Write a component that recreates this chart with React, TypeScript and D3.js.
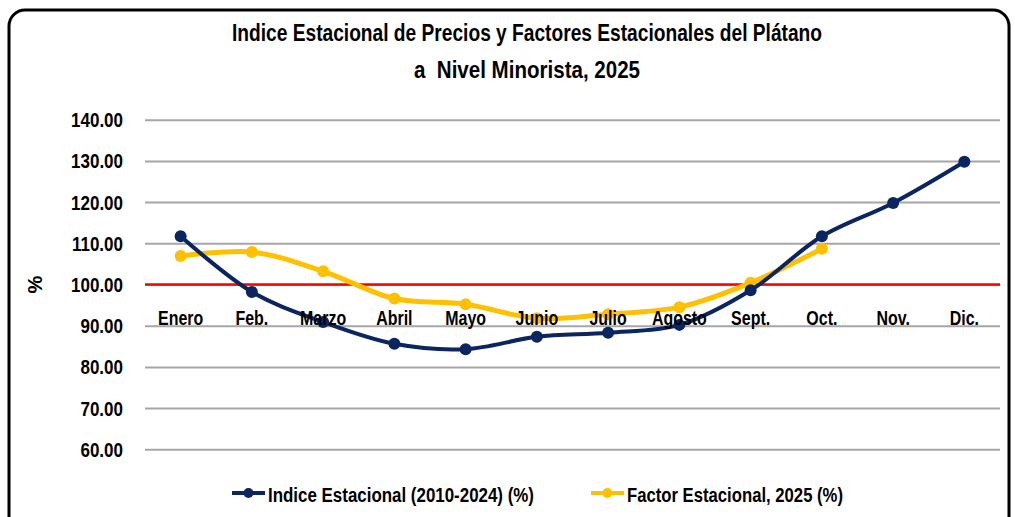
import React, { useRef, useEffect } from 'react'
import * as d3 from 'd3'

const months = ['Enero', 'Feb.', 'Marzo', 'Abril', 'Mayo', 'Junio', 'Julio', 'Agosto', 'Sept.', 'Oct.', 'Nov.', 'Dic.']
const indiceEstacional = [111.7, 98.2, 90.9, 85.6, 84.3, 87.3, 88.3, 90.2, 98.6, 111.7, 119.8, 129.8]
const factorEstacional = [106.9, 107.9, 103.2, 96.6, 95.2, 91.8, 92.8, 94.5, 100.4, 108.7]
const yTicks = [60, 70, 80, 90, 100, 110, 120, 130, 140]
const titleLines = ['Indice Estacional de Precios y Factores Estacionales del Plátano', 'a  Nivel Minorista, 2025']
const legendLabels = ['Indice Estacional (2010-2024) (%)', 'Factor Estacional, 2025 (%)']

const FONT = '"Liberation Sans", Arial, sans-serif'
const NAVY = '#0b2560'
const GOLD = '#ffc000'

// squeeze text horizontally so Arial-like glyphs read like the narrow Calibri of the original
function condense(sel: any, factor: number) {
  sel.each(function (this: SVGTextElement) {
    const len = this.getComputedTextLength()
    d3.select(this).attr('textLength', len * factor).attr('lengthAdjust', 'spacingAndGlyphs')
  })
}

export default function App() {
  const ref = useRef<SVGSVGElement>(null)

  useEffect(() => {
    const el = ref.current
    if (!el) return
    const svg = d3.select(el)
    svg.selectAll('*').remove()

    const width = 1015
    const margin = { top: 120, right: 15, bottom: 68, left: 145 }

    // frame
    svg.append('rect')
      .attr('x', 9).attr('y', 10).attr('width', 1000).attr('height', 530)
      .attr('rx', 16).attr('fill', '#fff').attr('stroke', '#000').attr('stroke-width', 3)

    // title
    const titleWidths = [590, 226]
    titleLines.forEach((t, i) => {
      svg.append('text').attr('font-family', FONT).attr('font-weight', 'bold')
        .attr('font-size', 24).attr('text-anchor', 'middle').attr('fill', '#000')
        .attr('x', 527).attr('y', 41 + i * 37).attr('xml:space', 'preserve')
        .attr('textLength', titleWidths[i]).attr('lengthAdjust', 'spacingAndGlyphs')
        .text(t)
    })

    const x = d3.scaleBand<string>().domain(months).range([margin.left, width - margin.right])
    const y = d3.scaleLinear().domain([60, 140]).range([449.3, 119.7])
    const cx = (m: string) => (x(m) as number) + x.bandwidth() / 2

    // gridlines + y axis labels
    const yAxis = svg.append('g').attr('transform', `translate(${margin.left},0)`)
      .call(d3.axisLeft(y).tickValues(yTicks).tickFormat(d3.format('.2f')).tickSize(-(width - margin.right - margin.left)).tickPadding(22))
    yAxis.select('.domain').remove()
    yAxis.selectAll('line').attr('stroke', '#a6a6a6').attr('stroke-width', 2)
    const tickText = yAxis.selectAll('text').attr('font-family', FONT).attr('font-weight', 'bold')
      .attr('font-size', 20).attr('fill', '#000').attr('dy', '0.35em')
    condense(tickText, 0.85)

    // red reference line at 100
    svg.append('line')
      .attr('x1', margin.left).attr('x2', width - margin.right)
      .attr('y1', y(100)).attr('y2', y(100))
      .attr('stroke', '#ff0000').attr('stroke-width', 2.5)

    // y label
    svg.append('text').attr('transform', `translate(42,${y(100)}) rotate(-90)`)
      .attr('text-anchor', 'middle').attr('font-family', FONT).attr('font-weight', 'bold')
      .attr('font-size', 20).attr('fill', '#000').text('%')

    const line = d3.line<number>()
      .x((_, i) => cx(months[i]))
      .y(d => y(d))
      .curve(d3.curveCatmullRom.alpha(0.5))

    const series = [
      { values: factorEstacional, color: GOLD, w: 5 },
      { values: indiceEstacional, color: NAVY, w: 4 },
    ]
    series.forEach(s => {
      svg.append('path').datum(s.values).attr('d', line)
        .attr('fill', 'none').attr('stroke', s.color).attr('stroke-width', s.w)
        .attr('stroke-linejoin', 'round')
      svg.append('g').selectAll('circle').data(s.values).join('circle')
        .attr('cx', (_, i) => cx(months[i])).attr('cy', d => y(d)).attr('r', 6)
        .attr('fill', s.color)
    })

    // category labels, drawn over the lines as in the original
    const cat = svg.append('g').selectAll('text').data(months).join('text')
      .attr('x', d => cx(d)).attr('y', 325)
      .attr('text-anchor', 'middle').attr('font-family', FONT).attr('font-weight', 'bold')
      .attr('font-size', 21).attr('fill', '#000').text(d => d)
    condense(cat, 0.76)

    // legend
    const legend = [
      { label: legendLabels[0], color: NAVY, x: 232, w: 266 },
      { label: legendLabels[1], color: GOLD, x: 591, w: 216 },
    ]
    legend.forEach(l => {
      const g = svg.append('g')
      g.append('line').attr('x1', l.x).attr('x2', l.x + 33).attr('y1', 493).attr('y2', 493)
        .attr('stroke', l.color).attr('stroke-width', 4)
      g.append('circle').attr('cx', l.x + 16.5).attr('cy', 493).attr('r', 5).attr('fill', l.color)
      g.append('text').attr('x', l.x + 36).attr('y', 502).attr('font-family', FONT)
        .attr('font-weight', 'bold').attr('font-size', 20).attr('fill', '#000')
        .attr('textLength', l.w).attr('lengthAdjust', 'spacingAndGlyphs').text(l.label)
    })
  }, [])

  return (
    <svg ref={ref} width={1015} height={517} style={{ position: 'absolute', left: 0, top: 0, background: '#fff' }} />
  )
}
